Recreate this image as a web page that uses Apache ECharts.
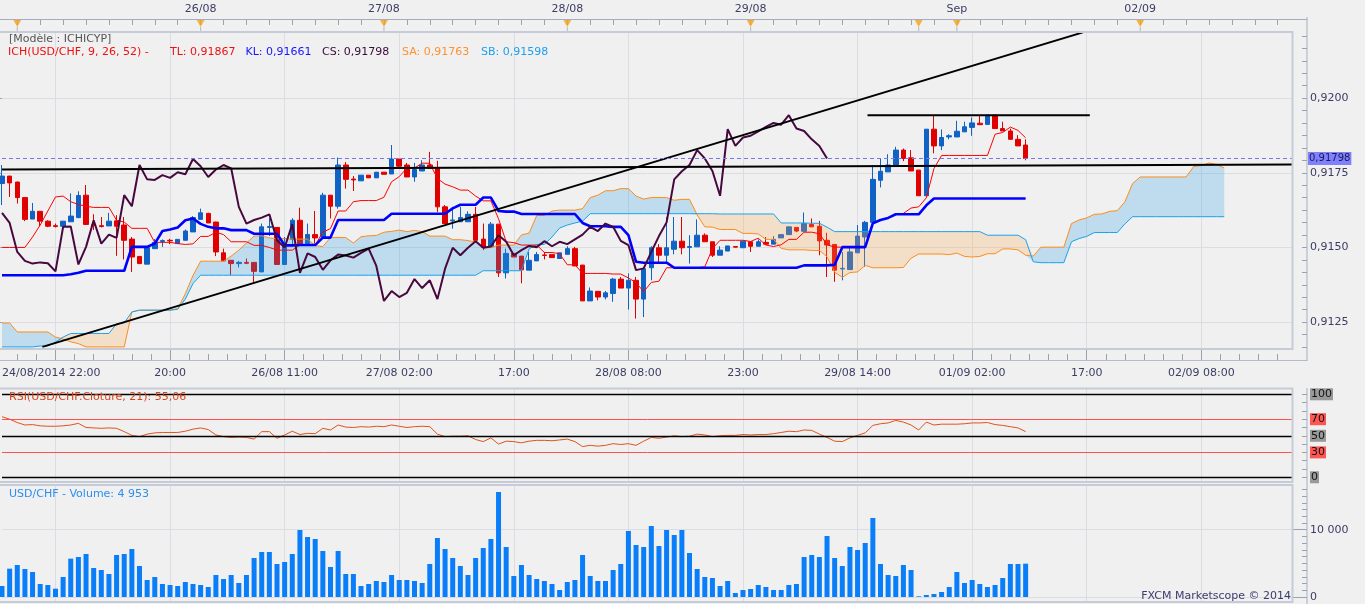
<!DOCTYPE html>
<html><head><meta charset="utf-8">
<script src="https://cdn.jsdelivr.net/npm/echarts@6/dist/echarts.min.js"></script>
<style>html,body{margin:0;padding:0;background:#f0f0f0;overflow:hidden}#c{width:1365px;height:604px}</style>
</head><body><div id="c"></div>
<script>
// ---------- DATA (hourly bars, USD/CHF) ----------
const opens = [0.91714,0.91739,0.91719,0.91667,0.91595,0.91621,0.91588,0.91573,0.91571,0.91586,
0.91600,0.91675,0.91576,0.91573,0.91572,0.91589,0.91575,0.91528,0.91470,0.91444,
0.91496,0.91520,0.91524,0.91513,0.91524,0.91552,0.91594,0.91614,0.91585,0.91482,
0.91457,0.91446,0.91450,0.91450,0.91418,0.91567,0.91567,0.91443,0.91527,0.91591,
0.91513,0.91543,0.91535,0.91675,0.91638,0.91776,0.91729,0.91723,0.91742,0.91733,
0.91752,0.91746,0.91796,0.91776,0.91736,0.91756,0.91776,0.91765,0.91636,0.91589,
0.91586,0.91586,0.91611,0.91528,0.91502,0.91578,0.91415,0.91480,0.91471,0.91424,
0.91455,0.91475,0.91476,0.91463,0.91477,0.91496,0.91441,0.91321,0.91353,0.91334,
0.91346,0.91394,0.91364,0.91390,0.91327,0.91432,0.91499,0.91474,0.91494,0.91521,
0.91500,0.91502,0.91541,0.91519,0.91474,0.91488,0.91503,0.91499,0.91519,0.91504,
0.91517,0.91511,0.91532,0.91543,0.91567,0.91554,0.91577,0.91571,0.91524,0.91510,
0.91428,0.91426,0.91482,0.91535,0.91584,0.91725,0.91753,0.91773,0.91826,0.91800,
0.91759,0.91673,0.91896,0.91840,0.91870,0.91870,0.91887,0.91902,0.91916,0.91912,
0.91943,0.91898,0.91890,0.91862,0.91843];
const closes = [0.91739,0.91716,0.91667,0.91594,0.91621,0.91588,0.91571,0.91570,0.91588,0.91605,
0.91674,0.91577,0.91574,0.91570,0.91588,0.91571,0.91524,0.91468,0.91446,0.91500,
0.91517,0.91523,0.91522,0.91527,0.91555,0.91600,0.91616,0.91582,0.91485,0.91455,
0.91446,0.91450,0.91447,0.91420,0.91569,0.91570,0.91443,0.91502,0.91591,0.91513,
0.91543,0.91532,0.91675,0.91638,0.91776,0.91728,0.91726,0.91742,0.91733,0.91752,
0.91745,0.91796,0.91772,0.91736,0.91761,0.91776,0.91765,0.91636,0.91580,0.91592,
0.91600,0.91611,0.91524,0.91500,0.91578,0.91415,0.91480,0.91468,0.91425,0.91457,
0.91476,0.91473,0.91466,0.91482,0.91496,0.91438,0.91321,0.91354,0.91334,0.91348,
0.91394,0.91364,0.91390,0.91327,0.91429,0.91499,0.91474,0.91499,0.91521,0.91499,
0.91503,0.91541,0.91519,0.91474,0.91491,0.91505,0.91501,0.91521,0.91504,0.91519,
0.91511,0.91527,0.91543,0.91569,0.91555,0.91580,0.91569,0.91522,0.91508,0.91424,
0.91430,0.91485,0.91538,0.91584,0.91728,0.91755,0.91776,0.91826,0.91798,0.91756,
0.91673,0.91896,0.91840,0.91868,0.91874,0.91889,0.91904,0.91917,0.91911,0.91943,
0.91898,0.91890,0.91862,0.91840,0.91798];
const highs = [0.91776,0.91739,0.91720,0.91668,0.91649,0.91621,0.91591,0.91580,0.91588,0.91681,
0.91688,0.91709,0.91611,0.91602,0.91616,0.91608,0.91602,0.91535,0.91470,0.91500,
0.91528,0.91527,0.91529,0.91527,0.91560,0.91605,0.91630,0.91616,0.91586,0.91496,
0.91457,0.91455,0.91463,0.91450,0.91580,0.91598,0.91567,0.91535,0.91598,0.91633,
0.91580,0.91622,0.91683,0.91675,0.91801,0.91786,0.91739,0.91742,0.91742,0.91752,
0.91752,0.91843,0.91796,0.91783,0.91783,0.91792,0.91820,0.91790,0.91642,0.91636,
0.91636,0.91621,0.91636,0.91580,0.91585,0.91578,0.91496,0.91480,0.91471,0.91485,
0.91485,0.91485,0.91476,0.91482,0.91504,0.91502,0.91441,0.91366,0.91353,0.91354,
0.91398,0.91401,0.91413,0.91401,0.91435,0.91504,0.91511,0.91602,0.91602,0.91602,
0.91541,0.91594,0.91547,0.91519,0.91504,0.91505,0.91503,0.91522,0.91519,0.91527,
0.91535,0.91538,0.91543,0.91569,0.91567,0.91617,0.91597,0.91589,0.91549,0.91510,
0.91485,0.91502,0.91575,0.91589,0.91776,0.91798,0.91812,0.91837,0.91831,0.91826,
0.91759,0.91896,0.91943,0.91895,0.91879,0.91924,0.91921,0.91935,0.91943,0.91943,
0.91943,0.91921,0.91898,0.91876,0.91862];
const lows = [0.91642,0.91669,0.91647,0.91588,0.91595,0.91571,0.91568,0.91567,0.91571,0.91586,
0.91598,0.91577,0.91558,0.91567,0.91572,0.91472,0.91460,0.91418,0.91444,0.91444,
0.91496,0.91502,0.91511,0.91513,0.91524,0.91552,0.91594,0.91582,0.91471,0.91455,
0.91407,0.91433,0.91444,0.91383,0.91418,0.91538,0.91443,0.91443,0.91504,0.91513,
0.91513,0.91513,0.91535,0.91597,0.91630,0.91697,0.91689,0.91723,0.91733,0.91733,
0.91745,0.91746,0.91764,0.91736,0.91720,0.91756,0.91765,0.91619,0.91580,0.91563,
0.91586,0.91586,0.91524,0.91491,0.91502,0.91401,0.91396,0.91468,0.91380,0.91424,
0.91455,0.91460,0.91466,0.91463,0.91477,0.91438,0.91321,0.91321,0.91323,0.91326,
0.91318,0.91364,0.91292,0.91262,0.91267,0.91390,0.91446,0.91446,0.91477,0.91477,
0.91446,0.91502,0.91519,0.91468,0.91474,0.91488,0.91500,0.91499,0.91485,0.91504,
0.91508,0.91511,0.91532,0.91543,0.91551,0.91554,0.91569,0.91474,0.91401,0.91385,
0.91390,0.91426,0.91482,0.91435,0.91584,0.91701,0.91753,0.91773,0.91789,0.91756,
0.91673,0.91673,0.91815,0.91826,0.91862,0.91870,0.91887,0.91874,0.91911,0.91912,
0.91898,0.91890,0.91862,0.91840,0.91792];
// Ichimoku lines
const tenkan = [0.91500,0.91500,0.91500,0.91500,0.91535,0.91575,0.91622,0.91669,0.91672,0.91653,
0.91644,0.91638,0.91634,0.91634,0.91634,0.91591,0.91585,0.91564,0.91564,0.91564,
0.91517,0.91517,0.91517,0.91513,0.91510,0.91512,0.91537,0.91537,0.91551,0.91543,
0.91519,0.91519,0.91519,0.91507,0.91507,0.91500,0.91491,0.91491,0.91491,0.91508,
0.91508,0.91508,0.91551,0.91563,0.91622,0.91622,0.91653,0.91657,0.91657,0.91657,
0.91668,0.91720,0.91737,0.91766,0.91766,0.91782,0.91782,0.91731,0.91712,0.91703,
0.91692,0.91692,0.91672,0.91656,0.91656,0.91596,0.91519,0.91516,0.91508,0.91508,
0.91508,0.91483,0.91483,0.91479,0.91442,0.91442,0.91413,0.91413,0.91413,0.91413,
0.91411,0.91411,0.91398,0.91382,0.91352,0.91383,0.91387,0.91432,0.91432,0.91432,
0.91432,0.91432,0.91435,0.91496,0.91524,0.91524,0.91524,0.91524,0.91520,0.91531,
0.91508,0.91503,0.91509,0.91527,0.91527,0.91551,0.91551,0.91546,0.91509,0.91501,
0.91501,0.91501,0.91501,0.91501,0.91581,0.91592,0.91599,0.91611,0.91614,0.91632,
0.91636,0.91666,0.91764,0.91808,0.91808,0.91808,0.91808,0.91808,0.91808,0.91808,
0.91879,0.91885,0.91903,0.91892,0.91867];
const kijun = [0.91407,0.91407,0.91407,0.91407,0.91407,0.91407,0.91407,0.91407,0.91407,0.91410,
0.91415,0.91422,0.91422,0.91422,0.91422,0.91422,0.91422,0.91502,0.91502,0.91502,
0.91513,0.91555,0.91560,0.91567,0.91591,0.91597,0.91579,0.91569,0.91564,0.91564,
0.91558,0.91558,0.91558,0.91546,0.91546,0.91546,0.91546,0.91507,0.91507,0.91508,
0.91508,0.91508,0.91533,0.91533,0.91592,0.91592,0.91592,0.91592,0.91592,0.91592,
0.91592,0.91613,0.91613,0.91613,0.91613,0.91613,0.91613,0.91613,0.91613,0.91631,
0.91643,0.91643,0.91643,0.91667,0.91667,0.91622,0.91620,0.91620,0.91612,0.91612,
0.91612,0.91612,0.91612,0.91612,0.91612,0.91612,0.91582,0.91571,0.91571,0.91571,
0.91569,0.91569,0.91541,0.91452,0.91449,0.91449,0.91449,0.91449,0.91432,0.91432,
0.91432,0.91432,0.91432,0.91432,0.91432,0.91432,0.91432,0.91432,0.91432,0.91432,
0.91432,0.91432,0.91432,0.91432,0.91432,0.91440,0.91440,0.91440,0.91440,0.91442,
0.91501,0.91501,0.91501,0.91501,0.91581,0.91592,0.91599,0.91611,0.91611,0.91611,
0.91611,0.91641,0.91664,0.91664,0.91664,0.91664,0.91664,0.91664,0.91664,0.91664,
0.91664,0.91664,0.91664,0.91664,0.91664];
const senkouA = [0.91247,0.91247,0.91217,0.91217,0.91217,0.91217,0.91217,0.91200,0.91193,0.91184,
0.91178,0.91167,0.91167,0.91167,0.91167,0.91167,0.91167,0.91284,0.91290,0.91290,
0.91290,0.91290,0.91290,0.91295,0.91345,0.91406,0.91454,0.91454,0.91454,0.91454,
0.91471,0.91491,0.91515,0.91538,0.91539,0.91532,0.91529,0.91530,0.91528,0.91528,
0.91528,0.91506,0.91503,0.91533,0.91533,0.91533,0.91515,0.91536,0.91539,0.91540,
0.91551,0.91554,0.91558,0.91553,0.91557,0.91553,0.91538,0.91538,0.91538,0.91526,
0.91526,0.91523,0.91518,0.91499,0.91499,0.91508,0.91508,0.91508,0.91542,0.91548,
0.91607,0.91607,0.91622,0.91625,0.91625,0.91625,0.91630,0.91667,0.91675,0.91690,
0.91690,0.91697,0.91697,0.91672,0.91662,0.91667,0.91667,0.91667,0.91658,0.91661,
0.91661,0.91609,0.91569,0.91568,0.91560,0.91560,0.91560,0.91547,0.91547,0.91545,
0.91527,0.91527,0.91497,0.91492,0.91492,0.91492,0.91490,0.91490,0.91469,0.91417,
0.91400,0.91416,0.91418,0.91440,0.91432,0.91432,0.91432,0.91432,0.91433,0.91464,
0.91478,0.91478,0.91478,0.91478,0.91476,0.91481,0.91470,0.91468,0.91470,0.91479,
0.91479,0.91495,0.91495,0.91492,0.91474,0.91471,0.91501,0.91501,0.91501,0.91501,
0.91580,0.91592,0.91599,0.91611,0.91612,0.91621,0.91623,0.91653,0.91714,0.91736,
0.91736,0.91736,0.91736,0.91736,0.91736,0.91736,0.91771,0.91774,0.91783,0.91778,
0.91766];
const senkouB = [0.91167,0.91167,0.91167,0.91167,0.91167,0.91170,0.91170,0.91183,0.91200,0.91212,
0.91212,0.91212,0.91212,0.91212,0.91212,0.91245,0.91247,0.91284,0.91290,0.91290,
0.91290,0.91290,0.91290,0.91293,0.91327,0.91379,0.91407,0.91407,0.91407,0.91407,
0.91407,0.91407,0.91407,0.91407,0.91407,0.91407,0.91407,0.91407,0.91407,0.91407,
0.91407,0.91407,0.91407,0.91407,0.91407,0.91407,0.91407,0.91407,0.91407,0.91407,
0.91407,0.91407,0.91407,0.91407,0.91407,0.91407,0.91407,0.91407,0.91407,0.91407,
0.91407,0.91407,0.91407,0.91422,0.91422,0.91422,0.91422,0.91422,0.91422,0.91495,
0.91510,0.91510,0.91535,0.91565,0.91575,0.91582,0.91588,0.91613,0.91613,0.91613,
0.91613,0.91613,0.91613,0.91613,0.91613,0.91613,0.91613,0.91613,0.91613,0.91613,
0.91613,0.91613,0.91613,0.91613,0.91612,0.91612,0.91612,0.91612,0.91612,0.91612,
0.91612,0.91612,0.91582,0.91582,0.91582,0.91582,0.91581,0.91581,0.91568,0.91553,
0.91553,0.91553,0.91553,0.91553,0.91553,0.91553,0.91553,0.91553,0.91553,0.91553,
0.91553,0.91553,0.91553,0.91553,0.91553,0.91553,0.91553,0.91553,0.91553,0.91541,
0.91541,0.91541,0.91541,0.91541,0.91526,0.91452,0.91449,0.91449,0.91449,0.91449,
0.91519,0.91530,0.91537,0.91550,0.91550,0.91550,0.91550,0.91579,0.91603,0.91603,
0.91603,0.91603,0.91603,0.91603,0.91603,0.91603,0.91603,0.91603,0.91603,0.91603,
0.91603];
const chikouShift = 26;
const rsi = [73,70,66,63,63.5,62,61.5,61.5,62,63,
65,60,59.5,59,59.5,59,55,50.5,49,52,
53.5,54,54,54,55.5,58,59.5,57.5,51,49,
48,48.5,48,46,55,55,47,51,55.5,51.5,
53,52.5,59,57,63,60.5,60,61,60.5,61.5,
61,63,61.5,60,61,61.5,61,52,49,49.5,
49.5,50,45.5,43,47.5,40,43.5,43,41.5,43.5,
44.5,44.5,44,45,46,43,37,38.5,37.5,38.5,
40.5,39.5,40.5,38.5,43.5,48,47,48.5,50,49,
49.5,52,51,49,50,50.5,50.5,51.5,51,51.5,
51.5,52.5,54,55.5,55,57,56.5,52,48,43.5,
43,47.5,50.5,53.5,62.5,64.5,65.5,68.5,66.5,63,
57,66.5,63,64,64,64,64.5,65.5,65.5,66,
63.5,62.5,61,59.5,55.06];
const volumes = [1634,4210,4755,4160,3715,1930,1783,1238,2972,5696,
5944,6390,4309,4012,3417,6241,6390,7133,4606,2526,
2972,1932,1783,1634,2229,1932,1783,1486,3269,2675,
3269,2080,3269,5795,6687,6687,4904,5200,6390,9956,
8916,8619,6835,4458,6835,3417,3417,1634,1932,2378,
2229,3269,2526,2526,2378,2080,4904,8768,7133,5795,
4606,3269,5795,7281,8619,15603,7430,3120,4755,3269,
2675,2378,1932,1040,2229,2526,6241,3120,2378,2378,
4012,4904,9807,7727,7430,10550,7578,9956,9213,9956,
6538,4160,2972,2823,1634,2378,594,1040,1189,1783,
1486,1040,1040,1783,1932,5944,6241,5944,9064,5795,
4606,7430,6984,8024,11739,4904,3269,3120,4755,4012,
100,297,446,743,1486,3715,2080,2526,1932,1486,
1783,2823,4904,4904,4953];
// drawn lines: [startBar, startPrice, endBar, endPrice]
const supportLine = [0, 0.91761, 169, 0.91778];
const resistanceLine = [113.3, 0.91943, 142.4, 0.91943];
const risingLine = [5.29, 0.91167, 141.5, 0.92220];
// axes / ticks
const barCount = 170;
const timeLabels = [[0,'24/08/2014 22:00'],[22,'20:00'],[37,'26/08 11:00'],[52,'27/08 02:00'],[67,'17:00'],[82,'28/08 08:00'],[97,'23:00'],[112,'29/08 14:00'],[127,'01/09 02:00'],[142,'17:00'],[157,'02/09 08:00']];
const dayLabels = [[26,'26/08'],[50,'27/08'],[74,'28/08'],[98,'29/08'],[125,'Sep'],[149,'02/09']];
const dayMarkers = [2,26,50,74,98,120,125,149];
const priceTicks = [0.9125,0.915,0.9175,0.92];
const priceMin = 0.91160, priceMax = 0.92218;
const rsiLevels = [100,70,50,30,0];
const volTicks = [0,10000];
const volTickLabels = ['0','10 000'];

// ---------- CHART ----------
const FONT = 'DejaVu Sans';
const AX = '#3c3c64';
const GRIDC = '#dcdde2';
const TICKC = '#98a2b6';
const cats = Array.from({length: barCount}, (_, i) => String(i));
const timeMap = Object.fromEntries(timeLabels);
const dayMap = Object.fromEntries(dayLabels);
const isVGrid = i => i >= 7 && (i - 7) % 15 === 0;

const candleData = opens.map((o, i) => [o, closes[i], lows[i], highs[i]]);
const chikou = closes.slice(chikouShift);
const cloudBase = [], cloudUp = [], cloudDown = [];
senkouA.forEach((a, j) => {
  const b = senkouB[j];
  cloudBase.push(Math.min(a, b));
  cloudUp.push(a >= b ? a - b : 0);
  cloudDown.push(b > a ? b - a : 0);
});
const minorX = []; for (let v = 2; v <= 169; v += 2.5) minorX.push(v);
const minorPrice = [];
for (let k = -30; k <= 30; k++) { const v = +(priceTicks[0] + k * 0.0025 / 6).toFixed(6); if (v > priceMin && v < priceMax) minorPrice.push(v); }
const rsiTicks = []; for (let v = 0; v <= 100; v += 10) rsiTicks.push(v);
const volMinor = []; for (let v = 1000; v <= 16000; v += 1000) volMinor.push(v);
const fmtPrice = (v, d) => v.toFixed(d).replace('.', ',');
const lastClose = closes[closes.length - 1];

const catAxis = (g) => ({type:'category', gridIndex:g, data:cats, boundaryGap:false,
  axisLine:{show:false}, axisTick:{show:false}, axisLabel:{show:false},
  splitLine:{show:true, interval:(i)=>isVGrid(i), lineStyle:{color:GRIDC, width:1}}});

const lineSeg = (arr) => [[arr[0], arr[1]], [arr[2], arr[3]]];
const lbl = {fontFamily:FONT, fontSize:11, color:AX};

const option = {
  animation:false,
  backgroundColor:'#f0f0f0',
  textStyle:{fontFamily:FONT},
  grid:[
    {left:2, width:1291, top:19, height:14, outerBoundsMode:'none'},
    {left:2, width:1291, top:33, height:316, outerBoundsMode:'none'},
    {left:2, width:1291, top:389, height:93, outerBoundsMode:'none'},
    {left:2, width:1291, top:485, height:117, outerBoundsMode:'none'}
  ],
  xAxis:[
    {type:'category', gridIndex:0, data:cats, boundaryGap:false, position:'top',
     axisLine:{show:false},
     axisTick:{show:true, inside:true, length:6, interval:(i)=>i%3===2, lineStyle:{color:TICKC}},
     axisLabel:Object.assign({show:true, interval:(i)=>dayMap[i]!==undefined, formatter:(v,i)=>dayMap[i]||'', margin:4}, lbl),
     splitLine:{show:false}},
    {type:'category', gridIndex:1, data:cats, boundaryGap:false, position:'bottom', offset:11,
     axisLine:{show:false},
     axisTick:{show:true, inside:true, length:11, interval:(i)=>isVGrid(i), lineStyle:{color:TICKC}},
     axisLabel:Object.assign({show:true, interval:(i)=>timeMap[i]!==undefined, formatter:(v,i)=>timeMap[i]||'', margin:8, alignMinLabel:'left'}, lbl),
     splitLine:{show:true, interval:(i)=>isVGrid(i), lineStyle:{color:GRIDC, width:1}}},
    {type:'value', gridIndex:1, min:0, max:169, position:'bottom', offset:11,
     axisLine:{show:false}, axisLabel:{show:false}, splitLine:{show:false},
     axisTick:{show:true, inside:true, length:6, customValues:minorX, lineStyle:{color:TICKC}}},
    catAxis(2),
    catAxis(3)
  ],
  yAxis:[
    {type:'value', gridIndex:0, min:0, max:14, inverse:true, show:false},
    {type:'value', gridIndex:1, min:priceMin, max:priceMax, position:'right', offset:14,
     axisLine:{show:false},
     axisTick:{show:true, inside:true, length:14, customValues:priceTicks, lineStyle:{color:TICKC}},
     axisLabel:Object.assign({show:true, customValues:priceTicks, formatter:(v)=>fmtPrice(v,4), margin:3}, lbl),
     splitLine:{show:true, lineStyle:{color:GRIDC}}},
    {type:'value', gridIndex:1, min:priceMin, max:priceMax, position:'right', offset:14,
     axisLine:{show:false}, axisLabel:{show:false}, splitLine:{show:false},
     axisTick:{show:true, inside:true, length:5, customValues:minorPrice, lineStyle:{color:TICKC}}},
    {type:'value', gridIndex:2, min:-5.7, max:106.4, position:'right', offset:14,
     axisLine:{show:false}, axisLabel:{show:false}, splitLine:{show:false},
     axisTick:{show:true, inside:true, length:5, customValues:rsiTicks, lineStyle:{color:TICKC}}},
    {type:'value', gridIndex:3, min:-743, max:16640, position:'right', offset:14,
     axisLine:{show:false},
     axisTick:{show:true, inside:true, length:14, customValues:volTicks, lineStyle:{color:TICKC}},
     axisLabel:Object.assign({show:true, customValues:volTicks, formatter:(v)=>volTickLabels[volTicks.indexOf(v)] ?? '', margin:3}, lbl),
     splitLine:{show:true, lineStyle:{color:GRIDC}}},
    {type:'value', gridIndex:3, min:-743, max:16640, position:'right', offset:14,
     axisLine:{show:false}, axisLabel:{show:false}, splitLine:{show:false},
     axisTick:{show:true, inside:true, length:5, customValues:volMinor, lineStyle:{color:TICKC}}}
  ],
  series:[
    {type:'candlestick', name:'USD/CHF', xAxisIndex:1, yAxisIndex:1, data:candleData, barWidth:5, clip:false, z:1, silent:true,
     itemStyle:{color:'#1062c4', color0:'#e00000', borderColor:'#1062c4', borderColor0:'#e00000', borderWidth:1}},
    {type:'line', xAxisIndex:1, yAxisIndex:1, data:cloudBase, stack:'kumo', symbol:'none', silent:true, z:2,
     lineStyle:{width:0, opacity:0}},
    {type:'line', xAxisIndex:1, yAxisIndex:1, data:cloudUp, stack:'kumo', symbol:'none', silent:true, z:2,
     lineStyle:{width:0, opacity:0}, areaStyle:{color:'rgba(40,160,228,0.25)', opacity:1}},
    {type:'line', xAxisIndex:1, yAxisIndex:1, data:cloudDown, stack:'kumo', symbol:'none', silent:true, z:2,
     lineStyle:{width:0, opacity:0}, areaStyle:{color:'rgba(252,168,80,0.25)', opacity:1}},
    {type:'line', name:'SA', xAxisIndex:1, yAxisIndex:1, data:senkouA, symbol:'none', silent:true, z:3,
     lineStyle:{color:'#ff8c1a', width:1}},
    {type:'line', name:'SB', xAxisIndex:1, yAxisIndex:1, data:senkouB, symbol:'none', silent:true, z:3,
     lineStyle:{color:'#1aa3ec', width:1}},
    {type:'line', name:'TL', xAxisIndex:1, yAxisIndex:1, data:tenkan, symbol:'none', silent:true, z:3,
     lineStyle:{color:'#ff0000', width:1}},
    {type:'line', name:'KL', xAxisIndex:1, yAxisIndex:1, data:kijun, symbol:'none', silent:true, z:3,
     lineStyle:{color:'#0000ff', width:2.6}},
    {type:'line', name:'CS', xAxisIndex:1, yAxisIndex:1, data:chikou, symbol:'none', silent:true, z:3,
     lineStyle:{color:'#46083f', width:2}},
    {type:'line', xAxisIndex:2, yAxisIndex:1, data:lineSeg(supportLine), symbol:'none', silent:true, z:4,
     lineStyle:{color:'#000', width:2},
     markLine:{silent:true, symbol:['none','none'], animation:false, precision:5,
       data:[{yAxis:lastClose,
         lineStyle:{color:'#7878e6', type:[4,3], width:1},
         label:{show:true, position:'end', distance:15, formatter:()=>fmtPrice(lastClose,5),
           backgroundColor:'#8080ff', color:'#1a1a50', padding:[2,1,1,1], fontSize:10, fontFamily:FONT}}]}},
    {type:'line', xAxisIndex:2, yAxisIndex:1, data:lineSeg(resistanceLine), symbol:'none', silent:true, z:4,
     lineStyle:{color:'#000', width:2}},
    {type:'line', xAxisIndex:2, yAxisIndex:1, data:lineSeg(risingLine), symbol:'none', silent:true, z:4,
     lineStyle:{color:'#000', width:2}},
    {type:'line', name:'RSI', xAxisIndex:3, yAxisIndex:3, data:rsi, symbol:'none', silent:true, z:3,
     lineStyle:{color:'#e2521b', width:1},
     markLine:{silent:true, symbol:['none','none'], animation:false, precision:2,
       data:rsiLevels.map(v => {
         const red = (v === 70 || v === 30);
         return {yAxis:v, lineStyle:{color: red ? '#ff5050' : '#000000', width: red ? 1 : 1.3, type:'solid'},
           label:{show:true, position:'end', distance:17, formatter:String(v),
             backgroundColor: red ? '#ff5555' : '#999999', color:'#111', padding:[1,1,0,1], fontSize:11, fontFamily:FONT}};
       })}},
    {type:'bar', name:'Volume', xAxisIndex:4, yAxisIndex:4, data:volumes, barWidth:5, clip:false, silent:true,
     itemStyle:{color:'#0a7ef8'}},
    {type:'scatter', xAxisIndex:0, yAxisIndex:0, data:dayMarkers.map(i=>[i,4]), symbol:'triangle', symbolRotate:180,
     symbolSize:[9,8], itemStyle:{color:'#f5a11c'}, silent:true, z:5},
    {type:'scatter', xAxisIndex:0, yAxisIndex:0, data:dayMarkers.map(i=>[i,11]), symbol:'rect',
     symbolSize:[1,6], itemStyle:{color:'#a0aabf'}, silent:true, z:4}
  ],
  graphic:{elements:[
    {type:'rect', z:100, silent:true, shape:{x:-4, y:32, width:1296.5, height:317}, style:{fill:null, stroke:'#c5ccd8', lineWidth:2}},
    {type:'rect', z:100, silent:true, shape:{x:-4, y:388.5, width:1296.5, height:93.5}, style:{fill:null, stroke:'#c5ccd8', lineWidth:2}},
    {type:'rect', z:100, silent:true, shape:{x:-4, y:485, width:1296.5, height:117}, style:{fill:null, stroke:'#c5ccd8', lineWidth:2}},
    {type:'line', z:100, silent:true, shape:{x1:0, y1:19.5, x2:1307, y2:19.5}, style:{stroke:'#a4aec0', lineWidth:1}},
    {type:'line', z:100, silent:true, shape:{x1:0, y1:360.5, x2:1307, y2:360.5}, style:{stroke:'#b4bccb', lineWidth:1}},
    {type:'line', z:100, silent:true, shape:{x1:1307, y1:17, x2:1307, y2:361}, style:{stroke:'#a4aec0', lineWidth:1}},
    {type:'line', z:100, silent:true, shape:{x1:1307, y1:388, x2:1307, y2:604}, style:{stroke:'#a4aec0', lineWidth:1}},
    {type:'text', z:101, silent:true, x:9, y:39, style:{text:'[Modèle : ICHICYP]', fill:'#555555', font:'11px "DejaVu Sans"', verticalAlign:'middle'}},
    {type:'text', z:101, silent:true, x:8, y:52, style:{text:'ICH(USD/CHF, 9, 26, 52) -', fill:'#ee1111', font:'11px "DejaVu Sans"', verticalAlign:'middle'}},
    {type:'text', z:101, silent:true, x:170, y:52, style:{text:'TL: 0,91867', fill:'#ee1111', font:'11px "DejaVu Sans"', verticalAlign:'middle'}},
    {type:'text', z:101, silent:true, x:245.5, y:52, style:{text:'KL: 0,91661', fill:'#1414ff', font:'11px "DejaVu Sans"', verticalAlign:'middle'}},
    {type:'text', z:101, silent:true, x:322, y:52, style:{text:'CS: 0,91798', fill:'#3a0a3a', font:'11px "DejaVu Sans"', verticalAlign:'middle'}},
    {type:'text', z:101, silent:true, x:402, y:52, style:{text:'SA: 0,91763', fill:'#ff9030', font:'11px "DejaVu Sans"', verticalAlign:'middle'}},
    {type:'text', z:101, silent:true, x:481, y:52, style:{text:'SB: 0,91598', fill:'#1aa0f0', font:'11px "DejaVu Sans"', verticalAlign:'middle'}},
    {type:'text', z:101, silent:true, x:9, y:397, style:{text:'RSI(USD/CHF.Cloture, 21): 55,06', fill:'#d8441a', font:'11px "DejaVu Sans"', verticalAlign:'middle'}},
    {type:'text', z:101, silent:true, x:9, y:494, style:{text:'USD/CHF - Volume: 4 953', fill:'#2b8ef0', font:'11px "DejaVu Sans"', verticalAlign:'middle'}},
    {type:'text', z:101, silent:true, x:1291, y:596, style:{text:'FXCM Marketscope © 2014', fill:'#3c3c6e', font:'11px "DejaVu Sans"', align:'right', verticalAlign:'middle'}}
  ]}
};
const chart = echarts.init(document.getElementById('c'), null, {renderer:'canvas', width:1365, height:604});
chart.setOption(option);
</script>
</body></html>
